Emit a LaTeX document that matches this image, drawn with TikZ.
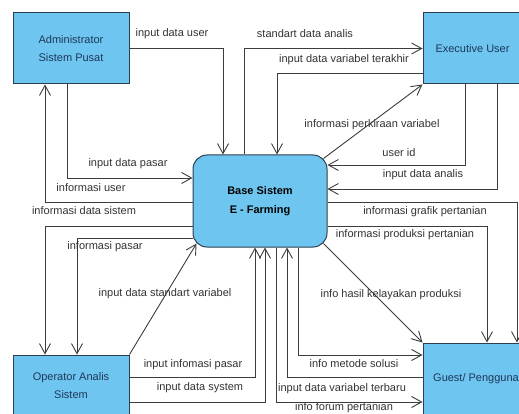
\documentclass[tikz,border=0pt]{standalone}
\usepackage{fontspec}
\setmainfont{Liberation Sans}
\usetikzlibrary{arrows.meta,backgrounds}
\definecolor{boxblue}{RGB}{110,198,240}
\definecolor{boxline}{RGB}{45,62,80}
\definecolor{flowgray}{RGB}{60,60,60}
\definecolor{txtgray}{RGB}{50,50,50}
\definecolor{txtnavy}{RGB}{30,55,90}
\tikzset{
  entity/.style={draw=boxline, fill=boxblue, line width=1pt, inner sep=0pt, align=center, text=txtnavy, font=\fontsize{11}{18}\selectfont},
  flow/.style={draw=flowgray, line width=0.9pt, -{Straight Barb[length=10pt,width=11pt]}},
  flowlbl/.style={text=txtgray, font=\fontsize{11}{13}\selectfont, inner sep=0pt},
}
\begin{document}
\begin{tikzpicture}[x=1pt,y=-1pt]
\useasboundingbox (0,0) rectangle (519,414);
\clip (0,0) rectangle (519,414);
% entities
\node[entity, minimum width=116pt, minimum height=71pt] (admin) at (71,48.5) {Administrator\\Sistem Pusat};
\node[entity, minimum width=99pt, minimum height=71pt] (exec) at (472.5,48.5) {Executive User};
\node[entity, rounded corners=14pt, minimum width=134pt, minimum height=92pt, text=black, font=\fontsize{11}{19}\selectfont\bfseries] (base) at (260,201) {Base Sistem\\E - Farming};
\node[entity, minimum width=116pt, minimum height=62pt] (oper) at (71,386) {Operator Analis\\Sistem};
\node[entity, minimum width=106pt, minimum height=72pt] (guest) at (476,379) {Guest/ Pengguna};
% flows
\begin{scope}[on background layer]
% admin <-> base
\draw[flow] (admin.east) -| ([xshift=-37pt]base.north);
\draw[flow] ([xshift=-4pt]admin.south) |- ([yshift=23pt]base.west);
\draw[flow] ([yshift=-1pt]base.west) -| ([xshift=-26pt]admin.south);
% exec <-> base
\draw[flow] ([xshift=-16pt]base.north) |- (exec.west);
\draw[flow] ([yshift=-24.5pt]exec.west) -| ([xshift=17pt]base.north);
\draw[flow] ([shift={(-4pt,-4pt)}]base.north east) -- (exec.south west);
\draw[flow] ([xshift=-7.5pt]exec.south) |- ([yshift=36pt]base.east);
\draw[flow] ([xshift=24.5pt]exec.south) |- ([yshift=12pt]base.east);
% base <-> guest
\draw[flow] ([yshift=-1pt]base.east) -| ([xshift=41pt]guest.north);
\draw[flow] ([yshift=-25pt]base.east) -| ([xshift=11pt]guest.north);
\draw[flow] ([shift={(-4pt,4pt)}]base.south east) -- (guest.north west);
\draw[flow] ([xshift=38pt]base.south) |- ([yshift=24pt]guest.west);
\draw[flow] ([yshift=2pt]guest.west) -| ([xshift=27pt]base.south);
\draw[flow] ([xshift=16pt]base.south) |- ([yshift=-23pt]guest.west);
% oper <-> base
\draw[flow] ([yshift=9pt]oper.east) -| ([xshift=-5pt]base.south);
\draw[flow] ([yshift=-16pt]oper.east) -| ([xshift=5pt]base.south);
\draw[flow] (oper.north east) -- ([shift={(4pt,4pt)}]base.south west);
\draw[flow] ([yshift=-25pt]base.west) -| ([xshift=-26pt]oper.north);
\draw[flow] ([yshift=-37pt]base.west) -| ([xshift=6pt]oper.north);
\end{scope}
% labels
\node[flowlbl] (lDataUser) at (172,34) {input data user};
\node[flowlbl] (lStdAnalis) at (305,34) {standart data analis};
\node[flowlbl] (lVarAkhir) at (344,60) {input data variabel terakhir};
\node[flowlbl] (lPerkiraan) at (372,125) {informasi perkiraan variabel};
\node[flowlbl] (lUserId) at (399,153) {user id};
\node[flowlbl] (lAnalis) at (423,175) {input data analis};
\node[flowlbl] (lGrafik) at (425,212) {informasi grafik pertanian};
\node[flowlbl] (lProduksi) at (405,235) {informasi produksi pertanian};
\node[flowlbl] (lKelayakan) at (391,295) {info hasil kelayakan produksi};
\node[flowlbl] (lMetode) at (354,364) {info metode solusi};
\node[flowlbl] (lVarBaru) at (342,389) {input data variabel terbaru};
\node[flowlbl] (lForum) at (344,407.5) {info forum pertanian};
\node[flowlbl] (lInfPasar) at (193,365) {input infomasi pasar};
\node[flowlbl] (lSystem) at (200,388) {input data system};
\node[flowlbl] (lStdVar) at (165,294) {input data standart variabel};
\node[flowlbl] (lPasar) at (128,164) {input data pasar};
\node[flowlbl] (lInfoUser) at (91,188) {informasi user};
\node[flowlbl] (lDataSistem) at (84,211) {informasi data sistem};
\node[flowlbl] (lInfoPasar) at (105,247) {informasi pasar};
\end{tikzpicture}
\end{document}
